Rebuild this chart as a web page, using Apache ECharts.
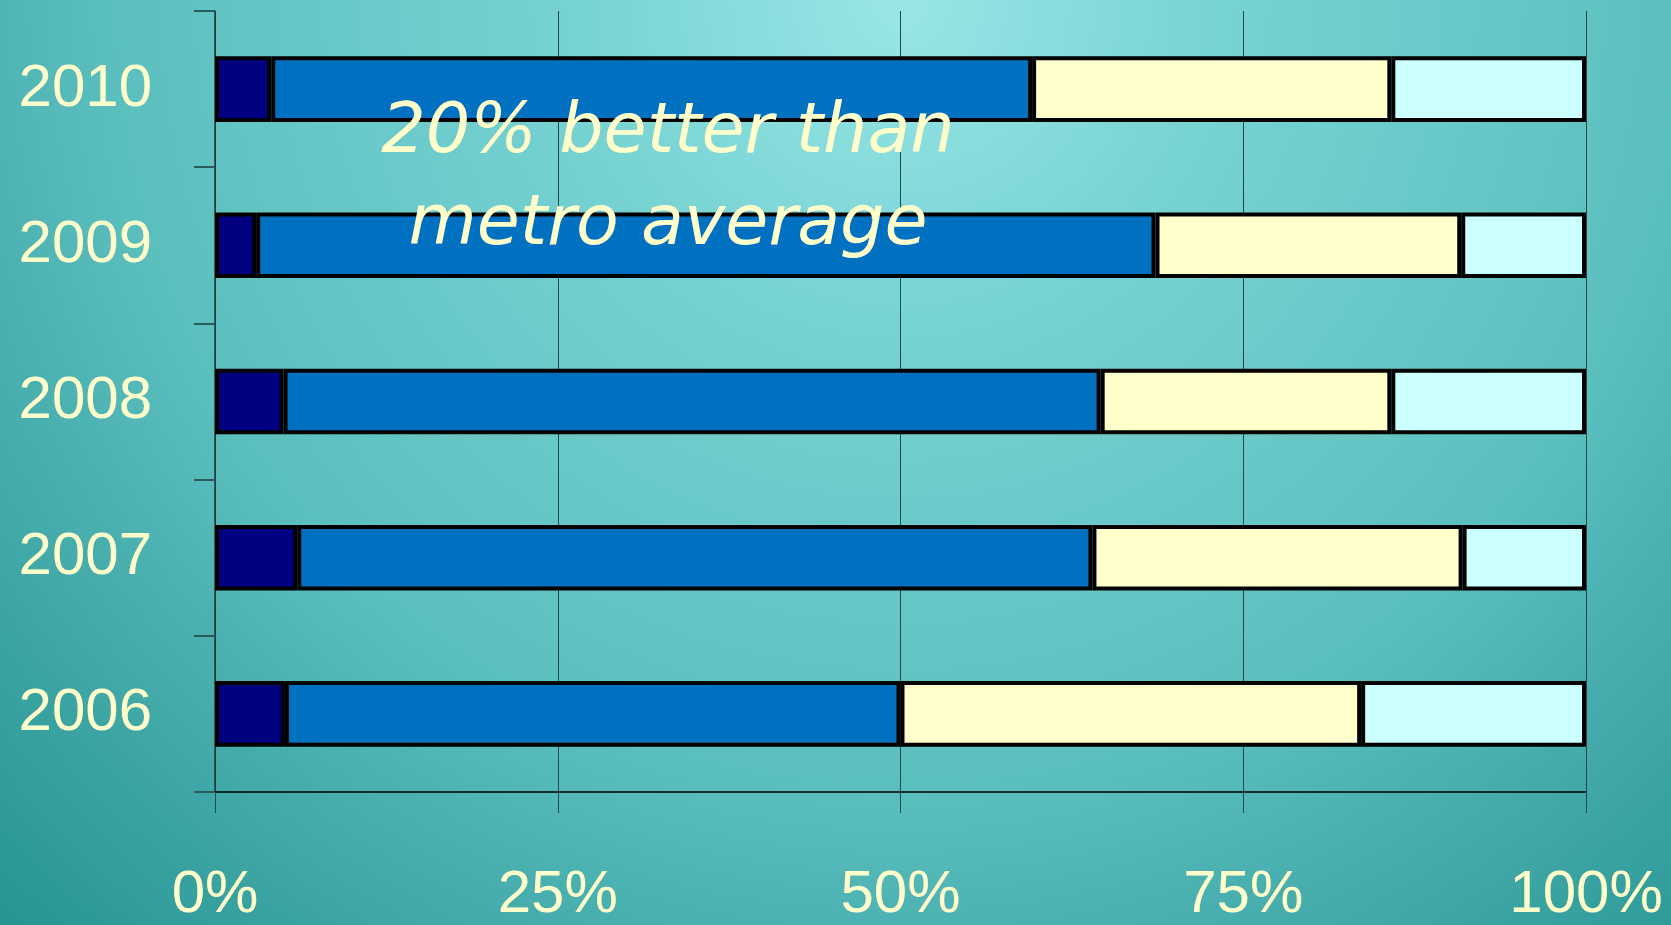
<!DOCTYPE html>
<html>
<head>
<meta charset="utf-8">
<script src="https://cdn.jsdelivr.net/npm/echarts@6/dist/echarts.min.js"></script>
<style>
  html, body { margin: 0; padding: 0; }
  #chart {
    width: 1671px; height: 925px;
    background: radial-gradient(circle at 900px 0px, #99E6E6 0px, #78D3D3 320px, #5BBFBE 786px, #3EA6A5 1064px, #249493 1300px);
  }
</style>
</head>
<body>
<div id="chart"></div>
<script>
const categories = ['2006', '2007', '2008', '2009', '2010'];
const seriesNavy   = [5.1, 6.0, 5.0, 3.0, 4.1];
const seriesBlue   = [44.9, 58.0, 59.6, 65.6, 55.5];
const seriesYellow = [33.6, 27.0, 21.2, 22.3, 26.2];
const seriesCyan   = [16.4, 9.0, 14.2, 9.1, 14.2];
const xTicks = [0, 25, 50, 75, 100];
const annotation = '20% better than\nmetro average';

const labelColor = '#FFFFCC';
const labelFont = '"Liberation Sans", "DejaVu Sans", sans-serif';

function barSeries(name, data, color) {
  return {
    name: name,
    type: 'bar',
    stack: 'total',
    data: data,
    barWidth: '42%',
    itemStyle: { color: color, borderColor: '#000000', borderWidth: 4 }
  };
}

const chart = echarts.init(document.getElementById('chart'), null, { renderer: 'canvas' });
chart.setOption({
  animation: false,
  backgroundColor: 'transparent',
  grid: { left: 215, right: 85, top: 11, bottom: 133, containLabel: false },
  xAxis: {
    type: 'value',
    min: xTicks[0],
    max: xTicks[xTicks.length - 1],
    interval: xTicks[1] - xTicks[0],
    axisLine: { show: true, lineStyle: { color: '#000000', width: 1.5 } },
    axisTick: { show: true, length: 21, lineStyle: { color: '#1E4A4A', width: 1 } },
    splitLine: { show: true, lineStyle: { color: '#1E4A4A', width: 1 } },
    axisLabel: {
      formatter: '{value}%',
      color: labelColor,
      fontSize: 60,
      fontFamily: labelFont,
      margin: 73
    }
  },
  yAxis: {
    type: 'category',
    data: categories,
    boundaryGap: true,
    axisLine: { show: true, lineStyle: { color: '#1A3A3A', width: 1.5 } },
    axisTick: { show: true, length: 21, lineStyle: { color: '#2A5C5C', width: 2 } },
    splitLine: { show: false },
    axisLabel: {
      color: labelColor,
      fontSize: 60,
      fontFamily: labelFont,
      margin: 63
    }
  },
  series: [
    barSeries('A', seriesNavy, '#000080'),
    barSeries('B', seriesBlue, '#0070C0'),
    barSeries('C', seriesYellow, '#FFFFCC'),
    barSeries('D', seriesCyan, '#CCFFFF')
  ],
  graphic: [{
    type: 'text',
    x: 668,
    y: 180,
    z: 100,
    style: {
      text: annotation,
      fill: labelColor,
      fontSize: 70,
      fontStyle: 'italic',
      fontFamily: '"DejaVu Sans", sans-serif',
      align: 'center',
      verticalAlign: 'middle',
      lineHeight: 92
    }
  }]
});
</script>
</body>
</html>
